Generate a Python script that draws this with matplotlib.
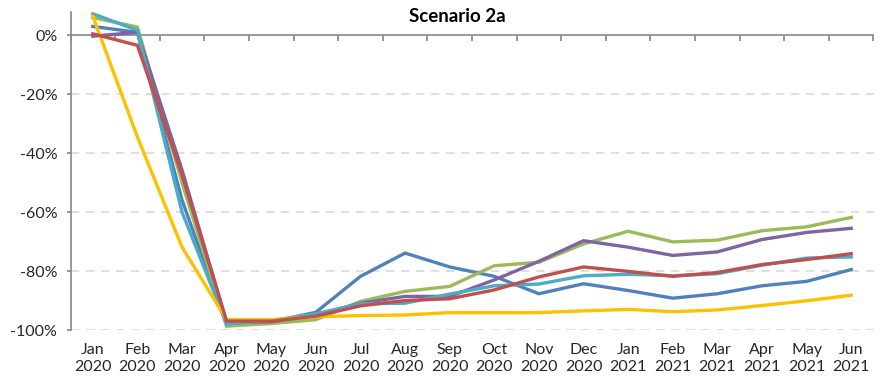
import numpy as np
import matplotlib
matplotlib.use("Agg")
import matplotlib.pyplot as plt

plt.rcParams['font.family'] = ['Lato', 'DejaVu Sans']

months = ["Jan\n2020", "Feb\n2020", "Mar\n2020", "Apr\n2020", "May\n2020", "Jun\n2020",
          "Jul\n2020", "Aug\n2020", "Sep\n2020", "Oct\n2020", "Nov\n2020", "Dec\n2020",
          "Jan\n2021", "Feb\n2021", "Mar\n2021", "Apr\n2021", "May\n2021", "Jun\n2021"]

# monthly change vs. baseline, in percent
blue = [3.0, 1.0, -55.9, -98.3, -97.2, -94.0, -81.8, -73.9, -78.6, -81.8, -87.7, -84.3,
        -86.6, -89.2, -87.7, -85.0, -83.5, -79.5]
green = [6.0, 2.8, -50.0, -98.7, -97.8, -96.5, -90.3, -86.9, -85.2, -78.2, -77.0, -70.8,
         -66.5, -70.1, -69.5, -66.3, -65.0, -61.8]
purple = [-0.3, 1.0, -45.7, -97.5, -97.2, -95.0, -90.9, -88.6, -88.6, -83.0, -76.7, -69.7,
          -71.9, -74.7, -73.5, -69.3, -66.9, -65.5]
cyan = [7.3, 1.7, -60.0, -98.0, -96.8, -94.5, -91.1, -90.9, -87.8, -85.0, -84.4, -81.6,
        -81.1, -81.6, -80.9, -78.0, -75.6, -75.2]
yellow = [6.5, -34.5, -71.9, -96.5, -96.5, -95.5, -95.1, -94.9, -94.1, -94.1, -94.1, -93.5,
          -93.0, -93.8, -93.2, -91.7, -90.1, -88.2]
red = [0.5, -3.4, -47.4, -97.0, -97.0, -95.3, -91.8, -90.0, -89.4, -86.4, -82.0, -78.6,
       -80.1, -81.8, -80.5, -77.8, -76.1, -74.1]

series = [(blue, '#4F81BD'), (green, '#9BBB59'), (purple, '#8064A2'),
          (cyan, '#4BACC6'), (yellow, '#FFC000'), (red, '#C0504D')]

fig = plt.figure(figsize=(8.85, 3.84), dpi=100)
ax = fig.add_axes([70.5 / 885, 1 - 330 / 384, 803 / 885, (330 - 11.7) / 384])

x = np.arange(len(months))
for vals, col in series:
    ax.plot(x, vals, color=col, lw=2.4, solid_joinstyle='miter', zorder=3)

ax.set_xlim(-0.5, len(months) - 0.5)
ax.set_ylim(-100, 8)

# gridlines
ax.set_yticks([0, -20, -40, -60, -80, -100])
ax.set_yticklabels(["0%", "-20%", "-40%", "-60%", "-80%", "-100%"])
for v in [-20, -40, -60, -80, -100]:
    ax.axhline(v, color='#D9D9D9', lw=1.2, ls=(0, (5, 4)), zorder=1)

for s in ['top', 'right']:
    ax.spines[s].set_visible(False)
ax.spines['left'].set_color('#868686')
ax.spines['left'].set_linewidth(1.2)
ax.spines['bottom'].set_position(('data', 0))
ax.spines['bottom'].set_color('#868686')
ax.spines['bottom'].set_linewidth(1.2)
ax.spines['bottom'].set_zorder(2)

# x axis at 0% with ticks between categories
ax.set_xticks(np.arange(-0.5, len(months), 1))
ax.set_xticklabels([])
ax.tick_params(axis='x', direction='out', length=4, width=1.2, color='#868686')
ax.tick_params(axis='y', direction='out', length=3, width=1.2, color='#868686',
               labelsize=11.5, labelcolor='#262626', pad=6.5)

# category labels sit at the bottom of the plot
sec = ax.secondary_xaxis(0)
sec.set_xticks(x)
sec.set_xticklabels(months, linespacing=1.3)
sec.tick_params(length=0, labelsize=11.5, labelcolor='#262626', pad=9.5)
sec.spines['bottom'].set_visible(False)

fig.text(457 / 885, 1 - 16 / 384, "Scenario 2a", ha='center', va='center',
         fontsize=13.5, fontweight='bold', color='#000000')

fig.savefig("out.png", dpi=100)
